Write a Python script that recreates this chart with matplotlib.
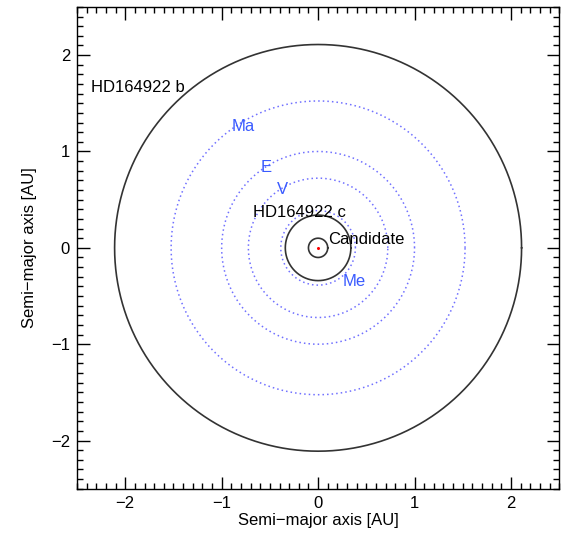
import numpy as np
import matplotlib
matplotlib.use("Agg")
import matplotlib.pyplot as plt
from matplotlib.ticker import MultipleLocator

plt.rcParams['font.family'] = ['Liberation Sans', 'DejaVu Sans']

# Data
solar_names = ["Me", "V", "E", "Ma"]
solar_radii = [0.387, 0.723, 1.0, 1.524]
solar_label_xy = [(0.25, -0.40), (-0.43, 0.56), (-0.60, 0.79), (-0.90, 1.21)]

exo_names = ["HD164922 b", "HD164922 c", "Candidate"]
exo_radii = [2.11, 0.34, 0.10]
exo_label_xy = [(-2.35, 1.62), (-0.68, 0.32), (0.10, 0.04)]

fig = plt.figure(figsize=(5.62, 5.33), dpi=100)
ax = fig.add_axes([0.137, 0.083, 0.858, 0.904])

theta = np.linspace(0, 2 * np.pi, 721)
for r in solar_radii:
    ax.plot(r * np.cos(theta), r * np.sin(theta), color='#7070ff', lw=1.1,
            linestyle=(0, (1, 2)))
for r in exo_radii:
    ax.plot(r * np.cos(theta), r * np.sin(theta), color='#333333', lw=1.2)
ax.plot([0], [0], marker='o', ms=1.2, color='red', mec='red')

for name, (x, y) in zip(solar_names, solar_label_xy):
    ax.text(x, y, name, color='#3a5bff', fontsize=12, ha='left', va='baseline')
for name, (x, y) in zip(exo_names, exo_label_xy):
    ax.text(x, y, name, color='black', fontsize=12, ha='left', va='baseline')

ax.set_xlim(-2.5, 2.5)
ax.set_ylim(-2.5, 2.5)
ax.xaxis.set_major_locator(MultipleLocator(1))
ax.yaxis.set_major_locator(MultipleLocator(1))
ax.xaxis.set_minor_locator(MultipleLocator(0.1))
ax.yaxis.set_minor_locator(MultipleLocator(0.1))
ax.tick_params(which='both', direction='in', top=True, right=True, labelsize=12, pad=5)
ax.tick_params(which='major', length=9, width=1)
ax.tick_params(which='minor', length=4.5, width=1)
ax.set_xlabel("Semi\u2212major axis [AU]", fontsize=12, labelpad=2)
ax.set_ylabel("Semi\u2212major axis [AU]", fontsize=12, labelpad=10)
for s in ax.spines.values():
    s.set_linewidth(1)

fig.savefig("out.png", dpi=100)
